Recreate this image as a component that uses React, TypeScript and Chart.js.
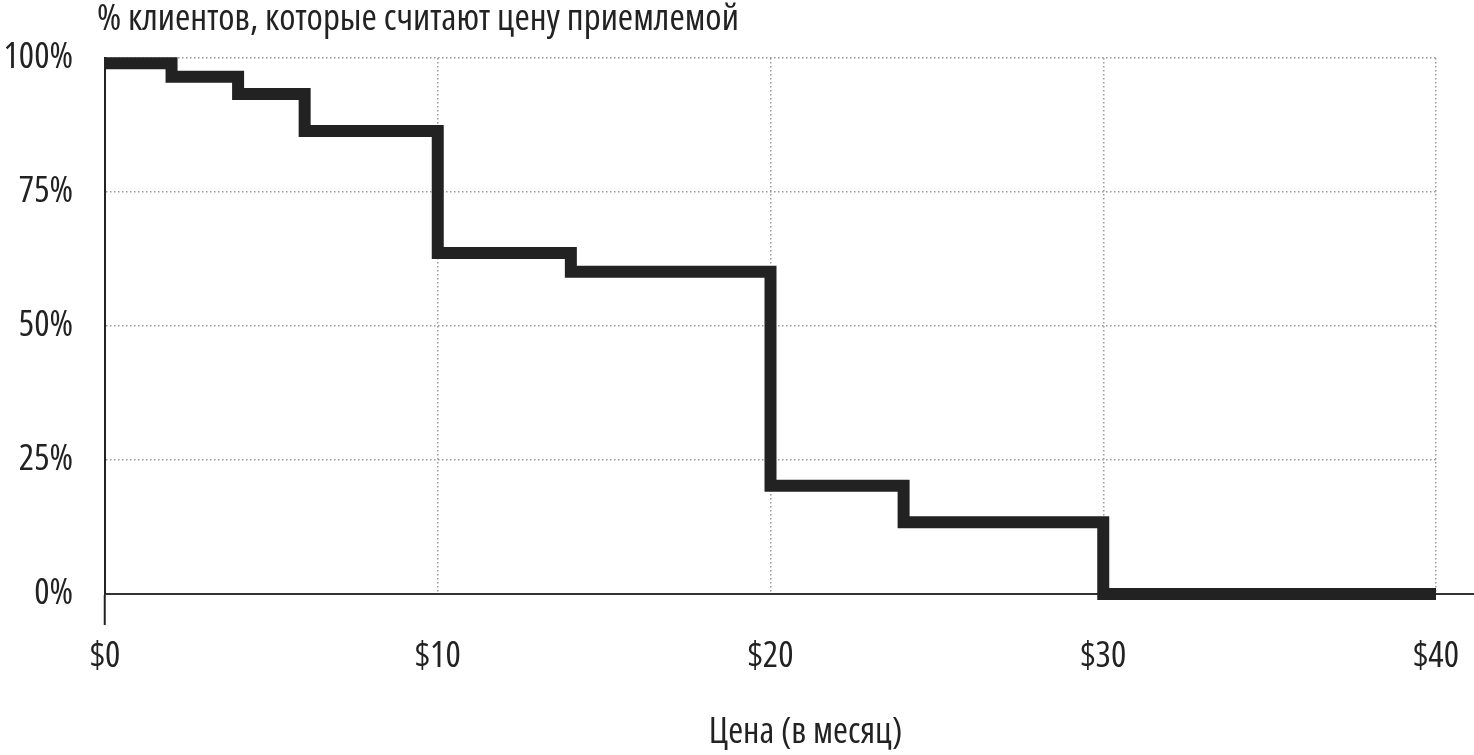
import React, { useEffect, useRef } from "react";
import { Chart, registerables } from "chart.js";

Chart.register(...registerables);

const prices = [0, 2, 4, 6, 10, 14, 20, 24, 30, 40];
const acceptPct = [99, 96.5, 93.3, 86.4, 63.6, 60.1, 20.2, 13.4, 0, 0];
const yTickValues = [0, 25, 50, 75, 100];
const xTickValues = [0, 10, 20, 30, 40];
const chartTitle = "% клиентов, которые считают цену приемлемой";
const xTitle = "Цена (в месяц)";

const FONT = '"Open Sans", "DejaVu Sans Condensed", sans-serif';
const FONT_SIZE = 36;
const INK = "#222222";
const GRID = "#9a9a9a";
const fontSpec = { family: FONT, size: FONT_SIZE, weight: "condensed" as any };

export default function App() {
  const ref = useRef<HTMLCanvasElement | null>(null);

  useEffect(() => {
    if (!ref.current) return;
    const points = prices.map((p, i) => ({ x: p, y: acceptPct[i] }));

    const extras = {
      id: "extras",
      afterDraw(chart: any) {
        const { ctx, chartArea, scales } = chart;
        const y0 = scales.y.getPixelForValue(0);
        ctx.save();
        ctx.strokeStyle = "#333333";
        ctx.lineWidth = 2;
        ctx.beginPath();
        ctx.moveTo(chartArea.right, y0);
        ctx.lineTo(chart.width, y0);
        ctx.stroke();
        ctx.fillStyle = INK;
        ctx.font = `condensed 37px ${FONT}`;
        ctx.textBaseline = "alphabetic";
        ctx.textAlign = "left";
        ctx.fillText(chartTitle, chartArea.left - 8, 30);
        ctx.font = `condensed ${FONT_SIZE}px ${FONT}`;
        ctx.textAlign = "center";
        ctx.textBaseline = "middle";
        ctx.fillText(xTitle, (chartArea.left + chartArea.right) / 2 + 35, chart.height - 22);
        ctx.restore();
      },
    };

    const chart = new Chart(ref.current, {
      type: "line",
      data: {
        datasets: [
          {
            data: points,
            borderColor: INK,
            borderWidth: 12,
            stepped: true,
            pointRadius: 0,
            fill: false,
            borderJoinStyle: "miter",
            borderCapStyle: "butt",
            clip: false as any,
          } as any,
        ],
      },
      options: {
        animation: false,
        responsive: false,
        layout: { padding: { top: 58, right: 38, left: 0, bottom: 0 } },
        plugins: { legend: { display: false }, tooltip: { enabled: false }, title: { display: false } },
        scales: {
          x: {
            type: "linear",
            min: 0,
            max: 40,
            afterBuildTicks: (s: any) => {
              s.ticks = xTickValues.map((v) => ({ value: v }));
            },
            afterFit: (s: any) => {
              s.height = 161;
            },
            ticks: {
              color: INK,
              font: fontSpec,
              padding: 10,
              callback: (v: any) => "$" + v,
            },
            grid: {
              drawTicks: true,
              tickLength: 31,
              tickWidth: 2,
              tickColor: (c: any) => (c.index === 0 ? INK : "rgba(0,0,0,0)"),
              color: (c: any) => (c.tick && c.tick.value === 0 ? "rgba(0,0,0,0)" : GRID),
              lineWidth: 1.5,
            } as any,
            border: { display: true, color: "#333333", width: 2, dash: [1.5, 2.5] },
            title: { display: false },
          },
          y: {
            type: "linear",
            min: 0,
            max: 100,
            afterBuildTicks: (s: any) => {
              s.ticks = yTickValues.map((v) => ({ value: v }));
            },
            afterFit: (s: any) => {
              s.width = 105;
            },
            ticks: {
              color: INK,
              font: fontSpec,
              padding: 32,
              callback: (v: any) => v + "%",
            },
            grid: {
              drawTicks: false,
              color: (c: any) => (c.tick && c.tick.value === 0 ? "rgba(0,0,0,0)" : GRID),
              lineWidth: 1.5,
            } as any,
            border: { display: true, color: INK, width: 2, dash: [1.5, 2.5] },
          },
        },
      },
      plugins: [extras],
    } as any);
    return () => chart.destroy();
  }, []);

  return (
    <div style={{ position: "absolute", left: 0, top: 0, width: 1474, height: 755, background: "#fff" }}>
      <canvas ref={ref} width={1474} height={755} style={{ display: "block" }} />
    </div>
  );
}
